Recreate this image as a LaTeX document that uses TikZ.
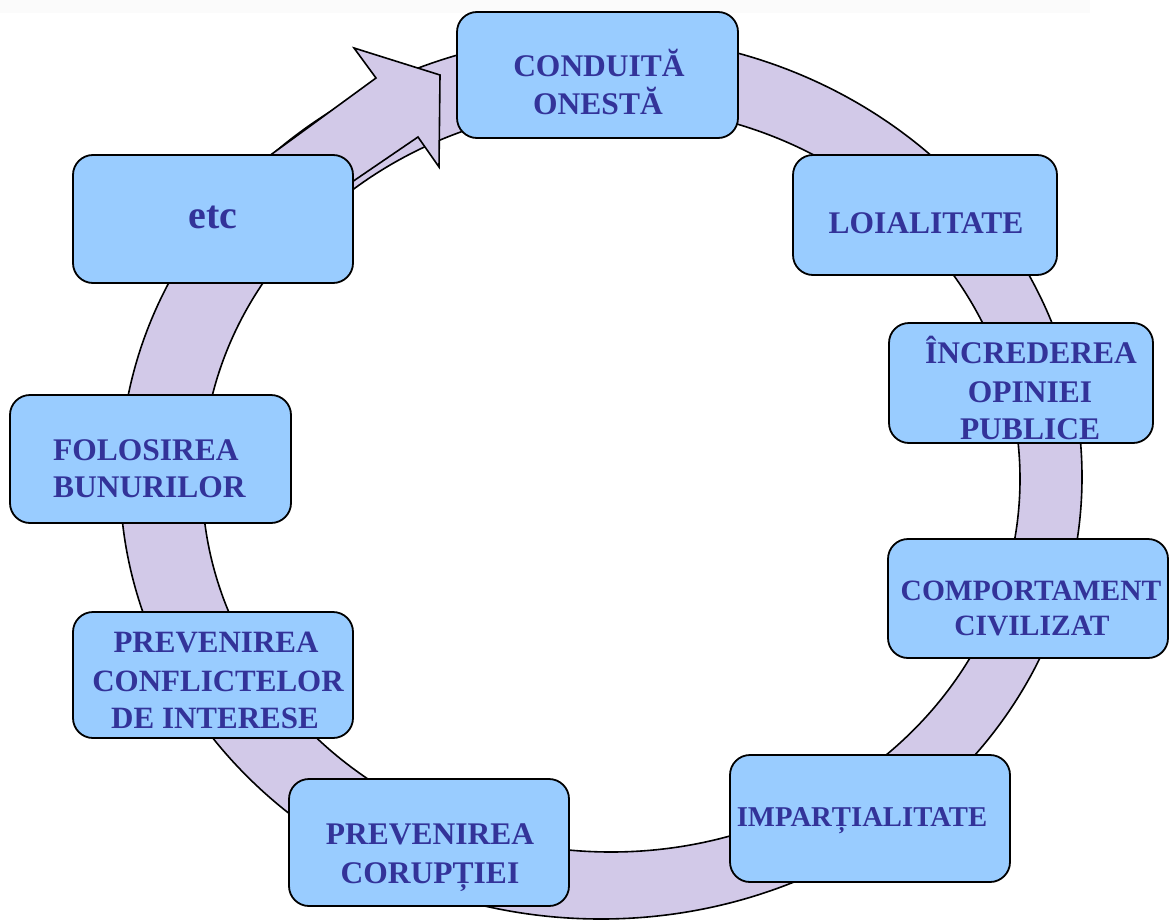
\documentclass[tikz,border=0pt]{standalone}
\usepackage{fontspec}
\setmainfont{Liberation Serif}
\definecolor{boxfill}{RGB}{153,204,255}
\definecolor{ringfill}{RGB}{210,201,232}
\definecolor{txt}{RGB}{51,51,153}
\begin{document}
\begin{tikzpicture}[x=1pt,y=-1pt,
  box/.style={draw=black, line width=1.8pt, fill=boxfill, rounded corners=20pt, inner sep=0pt},
  lbl/.style={text=txt, font=\bfseries\fontsize{31.5}{38}\selectfont, inner sep=0pt, anchor=base},
  ringedge/.style={draw=black, line width=1.6pt},
  ringpart/.style={draw=black, line width=1.6pt, fill=ringfill, line join=miter}]
\useasboundingbox (0,0) rectangle (1169,923);
\fill[black!1.5] (0,0) rectangle (1090,13);
% ring
\fill[ringfill, even odd rule] (601,477) ellipse [x radius=481pt, y radius=442pt]
  (611,479) ellipse [x radius=409pt, y radius=373pt];
\draw[ringedge] (601,477) ellipse [x radius=481pt, y radius=442pt];
\draw[ringedge] (611,479) ellipse [x radius=409pt, y radius=373pt];
% shaft and head
\draw[ringpart] (250,170) -- (376,78) -- (354,48) -- (440,75) -- (439,167) -- (418,137) -- (330,197) -- cycle;
% boxes
\node[box, minimum width=281pt, minimum height=126pt] (b1) at (597.5,75) {};
\node[box, minimum width=264pt, minimum height=120pt] (b2) at (925,215) {};
\node[box, minimum width=264pt, minimum height=120pt] (b3) at (1021,383) {};
\node[box, minimum width=280pt, minimum height=119pt] (b4) at (1028,598.5) {};
\node[box, minimum width=280pt, minimum height=127pt] (b5) at (870,818.5) {};
\node[box, minimum width=280pt, minimum height=127pt] (b6) at (429,842.5) {};
\node[box, minimum width=280pt, minimum height=126pt] (b7) at (213,675) {};
\node[box, minimum width=281pt, minimum height=128pt] (b8) at (150.5,459) {};
\node[box, minimum width=280pt, minimum height=128pt] (b9) at (213,219) {};
% texts
\node[lbl] (t1a) at (599,77) {CONDUITĂ};
\node[lbl] (t1b) at (598,115) {ONESTĂ};
\node[lbl] (t2a) at (926,233) {LOIALITATE};
\node[lbl] (t3a) at (1031,363) {ÎNCREDEREA};
\node[lbl] (t3b) at (1030,402) {OPINIEI};
\node[lbl] (t3c) at (1030,439) {PUBLICE};
\node[lbl, font=\bfseries\fontsize{29.5}{35}\selectfont] (t4a) at (1031,600) {COMPORTAMENT};
\node[lbl, font=\bfseries\fontsize{29.5}{35}\selectfont] (t4b) at (1032,635) {CIVILIZAT};
\node[lbl, font=\bfseries\fontsize{28.7}{34}\selectfont] (t5a) at (862,826) {IMPARȚIALITATE};
\node[lbl] (t6a) at (430,844) {PREVENIREA};
\node[lbl] (t6b) at (430,883) {CORUPȚIEI};
\node[lbl, font=\bfseries\fontsize{31}{38}\selectfont] (t7a) at (216,652) {PREVENIREA};
\node[lbl, font=\bfseries\fontsize{31}{38}\selectfont] (t7b) at (218,691) {CONFLICTELOR};
\node[lbl, font=\bfseries\fontsize{31}{38}\selectfont] (t7c) at (215,728) {DE INTERESE};
\node[lbl, anchor=base west] (t8a) at (53,460) {FOLOSIREA};
\node[lbl, anchor=base west] (t8b) at (53,497) {BUNURILOR};
\node[lbl, font=\bfseries\fontsize{40}{48}\selectfont] (t9a) at (213,228) {etc};
\end{tikzpicture}
\end{document}
